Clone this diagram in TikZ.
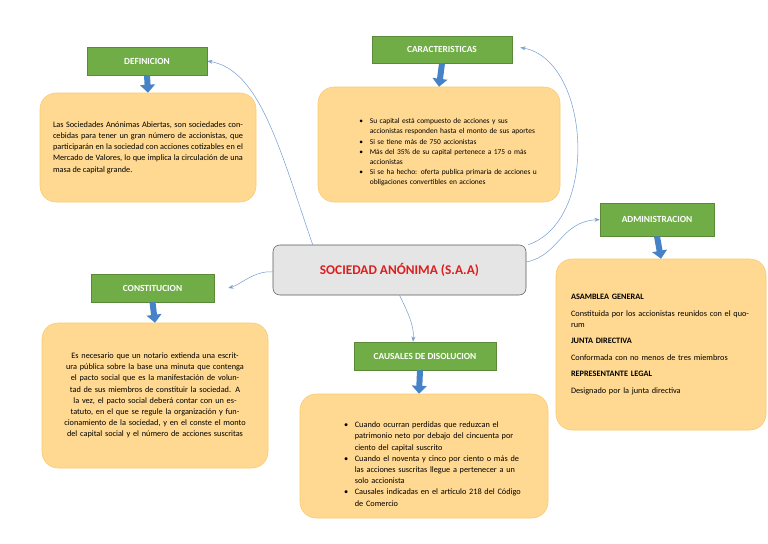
\documentclass[tikz,border=0pt]{standalone}
\usepackage{fontspec}
\setmainfont{Carlito}
\usetikzlibrary{arrows.meta, positioning, calc}
\definecolor{HeadGreen}{RGB}{112, 173, 71}
\definecolor{BoxOrange}{RGB}{255, 217, 145}
\definecolor{EdgeOrange}{RGB}{250, 200, 110}
\definecolor{LinkBlue}{RGB}{120, 160, 210}
\definecolor{DropBlue}{RGB}{70, 130, 200}
\definecolor{TitleRed}{RGB}{220, 30, 30}
\begin{document}
\begin{tikzpicture}[
    x=0.75pt, y=-0.75pt,
    head/.style={rectangle, draw=HeadGreen!80!black, fill=HeadGreen, text=white,
                 font=\fontsize{7}{8}\selectfont\bfseries, inner sep=0pt},
    card/.style={rectangle, rounded corners=12pt, draw=EdgeOrange, fill=BoxOrange,
                 font=\fontsize{6.2}{8.4}\selectfont, inner sep=0pt},
    drop/.style={-{Triangle[length=6pt, width=11pt]}, line width=4.5pt, DropBlue},
    link/.style={-{Stealth[length=4pt]}, thin, LinkBlue}
]
    \useasboundingbox (0,0) rectangle (768,543);
    % Center
    \node[rectangle, rounded corners=5pt, draw=gray!70!black, fill=gray!20, minimum width=253*0.75pt,
          minimum height=50*0.75pt, font=\fontsize{10}{12}\selectfont\bfseries, text=TitleRed]
          (sa) at (399.5,270) {SOCIEDAD ANÓNIMA (S.A.A)};

    % Headers
    \node[head, minimum width=120*0.75pt, minimum height=28*0.75pt] (def) at (147,61) {DEFINICION};
    \node[head, minimum width=140*0.75pt, minimum height=27*0.75pt] (car) at (442,49.5) {CARACTERISTICAS};
    \node[head, minimum width=114*0.75pt, minimum height=33*0.75pt] (adm) at (657,219.5) {ADMINISTRACION};
    \node[head, minimum width=123*0.75pt, minimum height=28*0.75pt] (con) at (152.5,288) {CONSTITUCION};
    \node[head, minimum width=142*0.75pt, minimum height=28*0.75pt] (cau) at (425,356) {CAUSALES DE DISOLUCION};

    % Cards
    \node[card, minimum width=216*0.75pt, minimum height=109*0.75pt] (defbox) at (148,147.5) {};
    \node[text width=190*0.75pt, align=justify, font=\fontsize{6.2}{8.4}\selectfont] at (defbox)
        {Las Sociedades Anónimas Abiertas, son sociedades concebidas para tener un gran número de accionistas, que participarán en la sociedad con acciones cotizables en el Mercado de Valores, lo que implica la circulación de una masa de capital grande.};
    \node[card, minimum width=242*0.75pt, minimum height=115*0.75pt] (carbox) at (439,144.5) {};
    \node[text width=205*0.75pt, font=\fontsize{5.6}{7.6}\selectfont] at (carbox) {%
        \begin{itemize}\setlength{\itemsep}{0pt}\setlength{\parskip}{0pt}\setlength{\leftmargin}{12pt}
        \item Su capital está compuesto de acciones y sus accionistas responden hasta el monto de sus aportes
        \item Si se tiene más de 750 accionistas
        \item Más del 35\% de su capital pertenece a 175 o más accionistas
        \item Si se ha hecho: oferta publica primaria de acciones u obligaciones convertibles en acciones
        \end{itemize}};
    \node[card, minimum width=210*0.75pt, minimum height=171*0.75pt] (admbox) at (661,344.5) {};
    \node[text width=180*0.75pt, align=left, font=\fontsize{6.2}{8.4}\selectfont] at (admbox) {%
        \textbf{ASAMBLEA GENERAL}\\[4pt]
        Constituida por los accionistas reunidos con el quorum\\[4pt]
        \textbf{JUNTA DIRECTIVA}\\[4pt]
        Conformada con no menos de tres miembros\\[4pt]
        \textbf{REPRESENTANTE LEGAL}\\[4pt]
        Designado por la junta directiva};
    \node[card, minimum width=226*0.75pt, minimum height=145*0.75pt] (conbox) at (155,395.5) {};
    \node[text width=200*0.75pt, align=center, font=\fontsize{6.2}{8.4}\selectfont] at (conbox)
        {Es necesario que un notario extienda una escritura pública sobre la base una minuta que contenga el pacto social que es la manifestación de voluntad de sus miembros de constituir la sociedad. A la vez, el pacto social deberá contar con un estatuto, en el que se regule la organización y funcionamiento de la sociedad, y en el conste el monto del capital social y el número de acciones suscritas};
    \node[card, minimum width=248*0.75pt, minimum height=124*0.75pt] (caubox) at (424,456) {};
    \node[text width=205*0.75pt, font=\fontsize{6.2}{8.4}\selectfont] at (caubox) {%
        \begin{itemize}\setlength{\itemsep}{0pt}\setlength{\parskip}{0pt}
        \item Cuando ocurran perdidas que reduzcan el patrimonio neto por debajo del cincuenta por ciento del capital suscrito
        \item Cuando el noventa y cinco por ciento o más de las acciones suscritas llegue a pertenecer a un solo accionista
        \item Causales indicadas en el artículo 218 del Código de Comercio
        \end{itemize}};

    % Drops
    \draw[drop] (def.south) -- (defbox.north);
    \draw[drop] (car.south) -- (carbox.north);
    \draw[drop] (adm.south) -- (admbox.north);
    \draw[drop] (con.south) -- (conbox.north);
    \draw[drop] ($(cau.south)+(-5,0)$) -- ($(caubox.north)+(-5,0)$);

    % Links
    \draw[link] ($(sa.north west)+(40,0)$) .. controls (280,150) and (260,70) .. (def.east);
    \draw[link] ($(sa.north east)+(2,0)$) .. controls (600,220) and (590,60) .. ($(car.east)+(8,-2)$);
    \draw[link] ($(sa.east)+(0,-8)$) .. controls (560,255) and (560,222) .. (adm.west);
    \draw[link] ($(sa.west)+(0,2)$) .. controls (255,270) and (240,285) .. ($(con.east)+(14,0)$);
    \draw[link] (sa.south) .. controls (412,320) and (414,330) .. ($(cau.north)+(-12,0)$);
\end{tikzpicture}
\end{document}
